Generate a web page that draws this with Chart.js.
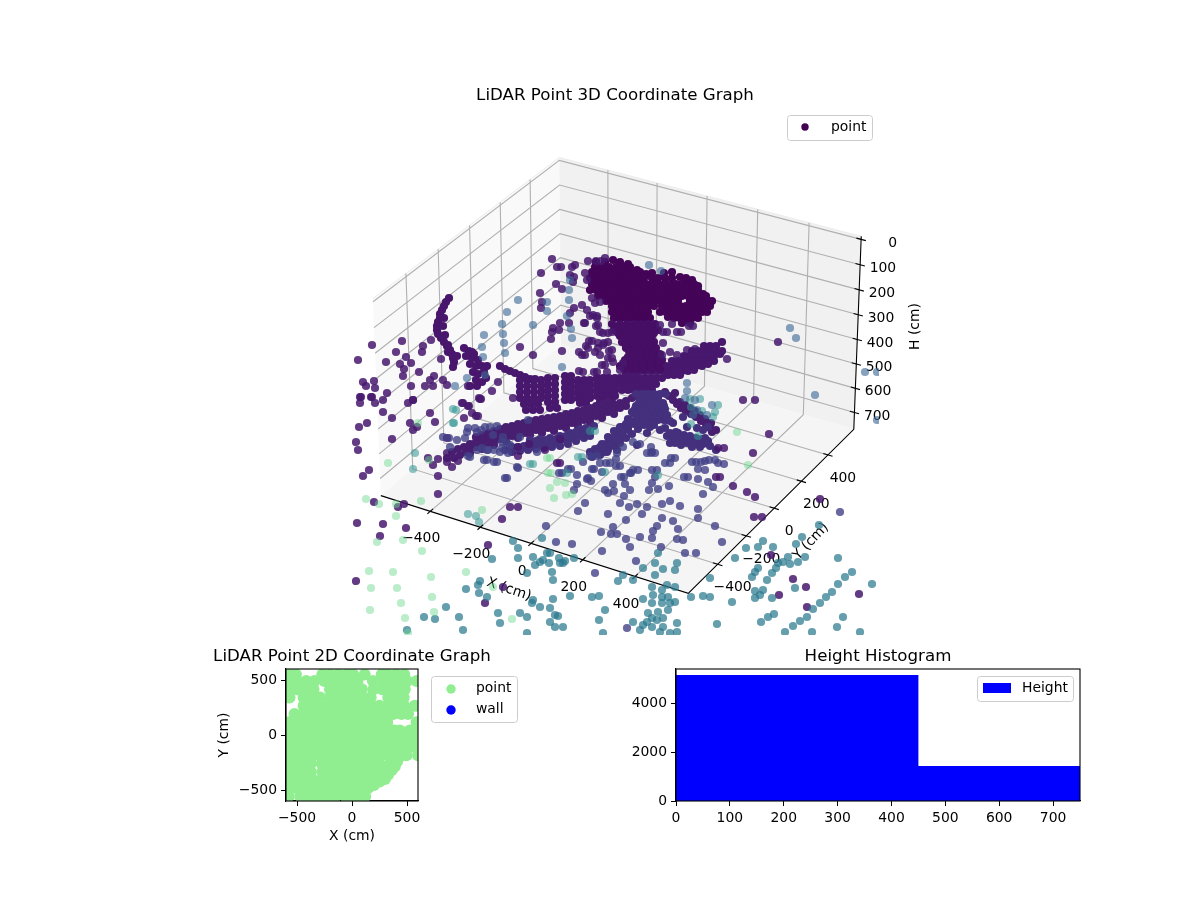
<!DOCTYPE html>
<html>
<head>
<meta charset="utf-8">
<title>LiDAR Point Graphs</title>
<script src="https://cdn.jsdelivr.net/npm/chart.js@4"></script>
<style>
    html, body { margin: 0; padding: 0; background: #fff; }
    #page { position: relative; width: 1200px; height: 900px; overflow: hidden; }
    canvas { position: absolute; }
</style>
</head>
<body>
<div id="page">
    <canvas id="main3d" width="1200" height="640" style="left:0;top:0;width:1200px;height:640px"></canvas>
    <canvas id="scan2d" width="344" height="205" style="left:180px;top:640px;width:344px;height:205px"></canvas>
    <canvas id="hist" width="480" height="185" style="left:620px;top:640px;width:480px;height:185px"></canvas>
</div>
<script>
/* ---------- 3D view: axis limits and ticks ---------- */
const xLim = [-600, 600];
const yLim = [-600, 600];
const hLim = [-12, 770];
const xTicks3d = [-400, -200, 0, 200, 400];
const yTicks3d = [-400, -200, 0, 200, 400];
const hTicks3d = [0, 100, 200, 300, 400, 500, 600, 700];

/* ---------- 3D view: points ---------- */
const backBlue = [[649,265],[661,271],[570,280],[569,290],[569,300],[547,302],[547,311],[518,300],[507,312],[502,324],[533,325],[503,334],[484,335],[504,343],[482,347],[505,353],[483,357],[572,338],[571,329],[567,316],[562,367],[455,386],[467,378],[485,375],[790,328],[796,338],[815,395],[865,372],[877,372],[877,420],[687,383],[687,391],[685,398],[695,400],[697,410],[707,415],[712,405],[693,415]];
const lightGreen = [[366,499],[379,504],[396,504],[396,516],[421,501],[482,510],[377,542],[403,540],[422,551],[369,571],[393,572],[431,577],[466,572],[371,588],[397,588],[432,597],[401,603],[370,610],[434,612],[405,618],[512,619],[493,587],[408,633],[548,473],[557,482],[565,483],[550,488],[554,498],[566,495],[572,494],[547,458],[737,432],[748,465],[418,423],[388,463],[429,460],[550,458],[551,473]];
const midTeal = [[453,409],[453,423],[415,453],[413,469],[476,516],[468,514],[479,522],[530,464],[578,457],[590,431],[456,410],[454,423],[533,464],[582,457],[567,473],[605,472],[658,475],[595,431],[690,399],[700,399],[691,407],[718,405],[702,411],[715,412],[713,417],[691,424],[698,436]];
const tealBlue = [[735,558],[746,548],[758,547],[773,547],[763,541],[788,557],[796,544],[802,537],[819,525],[783,562],[778,563],[776,568],[772,573],[767,580],[758,568],[755,572],[752,577],[790,564],[798,562],[805,557],[838,558],[852,572],[845,577],[838,584],[832,592],[826,597],[820,603],[813,609],[807,617],[800,621],[793,626],[785,632],[774,614],[768,617],[761,622],[843,617],[837,627],[812,632],[860,632],[872,584],[732,602],[755,591],[763,590],[760,595],[755,598],[772,598],[795,588],[717,624],[710,597],[703,596],[691,597],[710,578],
    [667,585],[675,587],[662,590],[652,587],[653,595],[662,597],[668,597],[662,603],[670,603],[675,602],[652,603],[643,599],[658,612],[668,610],[648,613],[657,620],[647,622],[652,618],[663,618],[643,625],[652,627],[640,630],[663,627],[660,632],[677,623],[677,632],[670,633],[633,622],[603,633],[599,620],[605,610],[592,597],[599,596],[618,581],[623,575],[633,580],[643,568],[655,575],[675,570],[658,553],[655,563],[677,563],[663,569],
    [563,563],[553,580],[570,596],[547,553],[550,553],[540,562],[543,560],[535,565],[549,563],[552,572],[559,558],[560,563],[565,561],[574,558],[542,538],[533,557],[518,558],[492,559],[513,541],[518,548],[527,573],[466,589],[446,607],[459,617],[424,617],[435,619],[500,623],[498,613],[520,613],[532,603],[527,617],[540,607],[550,608],[553,599],[555,615],[558,616],[550,622],[555,627],[563,627],[527,633],[463,630],[407,630],[533,600],[479,593],[487,597],[480,581],[478,585]];
const floorBlue = [[505,478],[517,467],[494,462],[484,460],[468,456],[559,473],[568,469],[577,484],[574,490],[587,479],[591,481],[592,469],[602,472],[606,463],[616,466],[630,473],[633,470],[621,477],[613,484],[625,484],[605,490],[608,493],[614,491],[630,490],[624,496],[585,503],[578,511],[608,514],[620,503],[629,507],[637,504],[626,520],[647,507],[642,514],[652,470],[655,477],[652,483],[649,490],[658,489],[669,486],[665,463],[671,458],[647,453],[652,452],[684,477],[692,462],[701,462],[709,460],[718,463],[698,469],[698,479],[708,482],[713,487],[703,494],[662,504],[670,501],[680,506],[698,509],[698,518],[715,526],[840,512],[662,518],[673,521],[678,529],[657,526],[653,531],[652,538],[640,537],[626,539],[613,527],[617,534],[611,534],[601,532],[546,526],[556,542],[572,544],[602,551],[630,547],[636,561],[661,547],[677,539],[683,540],[722,542],[685,553],[696,553],[595,573],[627,628],
    [467,432],[477,432],[490,427],[485,427],[493,435],[503,437],[507,443],[500,452],[487,450],[477,450],[457,440],[450,447],[443,437],
    [468,428],[475,428],[481,430],[497,426],[449,438],[465,438],[470,457],[482,448],[488,450],[494,450],[487,460],[497,462],[502,442],[502,448],[510,445],[520,437],[528,420],[508,453],[518,468],[537,452],[562,473],[571,469],[583,462],[590,456],[597,456],[594,469],[600,463],[610,463],[620,466],[617,453],[616,459],[623,447],[633,442],[640,444],[651,447],[651,453],[655,453],[657,470],[670,463],[675,458],[696,462],[705,461],[715,460],[724,464],[688,477],[705,470],[624,477],[631,473],[638,470],[507,478],[588,478],[577,475]];
const sparseDark = [[552,259],[557,267],[561,267],[572,267],[575,265],[541,273],[556,284],[562,289],[540,293],[542,302],[541,308],[570,275],[574,277],[573,282],[560,323],[553,328],[552,332],[559,330],[551,339],[569,323],[584,323],[570,313],[574,308],[582,305],[590,316],[597,316],[596,326],[600,332],[608,333],[604,343],[589,341],[586,346],[562,351],[579,352],[582,355],[595,352],[609,351],[608,358],[613,362],[602,365],[533,355],[520,347],[579,371],[594,372],[677,332],[663,332],[689,326],[778,342],[727,359],[743,400],[755,400],
    [372,345],[402,341],[396,352],[358,360],[386,362],[406,357],[400,364],[411,363],[404,369],[403,376],[419,372],[422,352],[423,346],[431,340],[441,359],[434,376],[430,380],[425,386],[433,386],[443,380],[447,385],[411,386],[363,382],[374,381],[366,386],[375,388],[387,393],[361,397],[371,397],[383,400],[413,400],[468,386],[492,391],[498,382],[485,367],[479,398],
    [360,397],[372,397],[375,403],[383,412],[360,403],[367,423],[359,427],[356,442],[358,450],[369,470],[363,476],[392,418],[392,439],[408,403],[413,400],[430,413],[435,422],[410,423],[413,430],[417,427],[462,403],[468,406],[472,413],[476,416],[480,399],[447,438],[447,453],[447,462],[452,467],[458,461],[438,476],[438,494],[433,465],[438,459],[428,458],[374,502],[398,507],[404,504],[510,507],[518,507],[502,519],[357,523],[383,524],[406,528],[380,536],[488,545],[356,581],[485,603],[503,587],[557,463],[716,477],[733,486],[747,492],[755,497],[753,453],[718,448],[769,434],[820,499],[754,517],[762,517],[771,555],[793,579],[806,587],[779,595],[807,607],[859,594],
    [518,447],[518,456],[529,444],[545,450],[560,439],[560,463],[724,448],[720,477],[463,403],[469,406],[481,399],[478,416],[464,418],[513,398],
    [588,261],[596,261],[601,261],[605,258],[585,273],[587,280],[592,298],[587,310],[600,302],[595,303],[593,315],[597,318],[585,323],[598,325],[603,333],[612,332],[608,342],[598,343],[603,345],[592,341],[588,348],[585,355],[598,348],[600,355],[612,350],[612,358],[605,365],[623,363],[620,370],[583,372],[597,372],[607,372],[667,332],[681,332],[693,326],[672,324],[660,325],[663,343],[670,352],[662,355],[677,355],[687,350],[695,349]];
const lowerBranches = [[505,450],[512,447],[518,447],[524,446],[530,445],[536,445],[542,444],[548,443],[554,442],[560,441],[566,440],[572,438],[578,436],[584,433],[590,431],[530,440],[540,439],[550,438],[560,436],[570,433],[580,429],
    [590,452],[595,449],[600,447],[606,444],[610,440],[615,436],[618,431],[622,427],[626,424],[632,422],[638,419],[644,416],[650,412],[655,408],[596,454],[604,452],[612,445],[620,437],[628,430],
    [640,400],[646,400],[652,400],[658,398],[636,406],[642,406],[648,406],[654,406],[660,404],[632,412],[638,412],[644,412],[650,412],[656,412],[662,412],[640,418],[646,418],[652,418],[658,420],[664,420],
    [660,417],[667,420],[665,428],[673,423],[678,433],[687,427],[697,428],[703,430],[683,417],[708,427],[705,438],[687,443],[700,447],[670,443],[647,433],[650,427],[637,445],[607,452],[617,450],
    [667,436],[673,438],[679,440],[685,441],[691,442],[697,443],[703,444],[708,441],[660,430],[654,425],[648,420],[675,443],[681,445],[692,447],[670,433],[676,432],[684,435],[690,436],[696,438],[702,439],[710,446],[716,450],
    [512,452],[520,451],[528,450],[536,449],[544,448],[552,447],[560,446],[568,444],[576,441],[584,438],[590,436],[592,457],[600,455],[608,450],[614,446],[620,443],[626,438],[632,434],[638,429],[644,425],[650,421],[656,417],[662,412],[602,444],[608,437],[614,431],[620,427],[628,419],[634,414],
    [536,441],[546,440],[556,439],[566,436],[576,432],[586,428],[594,426],[598,452],[604,447],[610,444],[616,440],[622,434],[628,428],[634,424],[640,424],[646,420],[652,416],[658,410],[664,406],
    [639,403],[645,403],[651,403],[657,403],[663,403],[635,409],[641,409],[647,409],[653,409],[659,409],[665,409],[637,415],[643,415],[649,415],[655,415],[661,415],[667,415],[630,421],[636,421],[642,421],[670,421],[636,394],[642,394],[648,394],[654,394],[660,394],[666,394]];
const longBranch = [[447,458],[452,452],[458,449],[464,447],[470,444],[476,442],[482,440],[488,438],[494,436],[500,434],[506,432],[512,431],[518,429],[524,428],[530,426],[536,425],[542,424],[548,423],[554,422],[560,421],[566,419],[572,418],[578,417],[584,415],[590,413],[596,411],[602,409],[608,407],[614,405],[620,403],[626,401],[632,398],[638,396],[644,393],
    [470,449],[482,445],[494,441],[506,437],[518,434],[530,431],[542,429],[554,427],[566,424],[578,422],[590,418],[602,414],[614,410],[626,406],
    [476,437],[488,433],[500,429],[512,426],[524,423],[536,420],[548,418],[560,416],[572,413],[584,410],[596,406],[608,402],
    [454,458],[460,455],[466,452],[476,447],[488,443],[500,439],[512,436],[524,433],[536,430],[548,428],[560,426],[572,423],[584,420],[596,416],[608,412],[620,408],
    [482,435],[494,431],[506,427],[518,424],[530,421],[542,419],[554,417],[566,414],[578,411],[590,408],[602,404],[470,453],[482,449],[494,445],[506,441],[518,438],[530,435],[542,433],[554,431],[566,428],[578,426],[590,422],[602,418],[614,414],
    [665,392],[669,396],[673,400],[677,404],[681,408],[686,411],[691,414],[696,417],[701,421],[706,424],[710,428],[712,432],
    [675,393],[680,402],[685,405],[690,408],[695,411],[700,415],[705,419],[711,423],[716,430]];
const wallArcs = [[449,298],[446,302],[444,306],[442,310],[440,314],[440,318],[438,322],[437,326],[437,330],[438,334],[441,338],[444,342],[447,346],[450,350],[452,354],[453,358],[454,362],[453,367],[448,345],[445,335],[443,326],[444,318],[448,352],[457,356],
    [464,348],[469,351],[474,354],[466,356],[472,358],[478,360],[470,364],[476,366],[482,366],[473,372],[478,374],[484,372],[487,366],[476,380],[482,382],[470,386],[477,386],[486,378],[472,352]];
const mainArc = [[500,366],[505,369],[510,371],[515,373],[520,375],[525,377],[530,379],[535,379],
    [520,380],[527,380],[534,380],[541,380],[520,386],[527,386],[534,386],[541,386],[520,392],[527,392],[534,392],[541,392],[520,398],[527,398],[534,398],[541,398],[524,404],[531,404],[538,404],[526,410],[533,410],[540,410],
    [548,378],[555,378],[548,384],[555,384],[548,390],[555,390],[548,396],[555,396],[548,402],[555,402],[550,408],[557,408],
    [565,376],[571,376],[565,382],[571,382],[565,388],[571,388],[565,394],[571,394],[565,400],[571,400],
    [578,380],[584,380],[590,380],[578,386],[584,386],[590,386],[578,392],[584,392],[590,392],[578,398],[584,398],[590,398],[580,403],[586,403],
    [597,378],[603,378],[609,378],[615,378],[597,384],[603,384],[609,384],[615,384],[597,390],[603,390],[609,390],[615,390],[597,396],[603,396],[609,396],[615,396],[600,402],[606,402],[612,402],
    [620,378],[626,378],[632,378],[638,378],[644,378],[650,378],[656,378],[662,378],[620,384],[626,384],[632,384],[638,384],[644,384],[650,384],[656,384],[622,390],[628,390],[634,390],[640,390],[646,390],[652,390],
    [704,346],[710,346],[716,346],[722,342],[692,351],[698,351],[704,351],[710,351],[716,351],[722,351],[684,356],[690,356],[696,356],[702,356],[708,356],[714,356],[720,354],[672,361],[678,361],[684,361],[690,361],[696,361],[702,361],[708,361],[714,361],[660,366],[666,366],[672,366],[678,366],[684,366],[690,366],[696,366],[702,366],[708,364],[640,371],[646,371],[652,371],[658,371],[664,371],[670,371],[676,371],[682,371],[688,371],[694,370],[626,374],[634,374],[668,375],[674,375],[680,375]];
const stalk = [[612,324],[620,324],[627,324],[634,324],[641,324],[648,324],[655,324],[614,330],[622,330],[630,330],[637,330],[644,330],[651,330],[658,330],[620,336],[628,336],[634,336],[640,336],[646,336],[652,336],[622,342],[630,342],[636,342],[642,342],[648,342],[654,342],[626,348],[632,348],[638,348],[644,348],[650,348],[656,348],[630,354],[636,354],[642,354],[648,354],[654,354],[660,354],[625,360],[632,360],[638,360],[644,360],[650,360],[656,360],[662,360],[620,366],[628,366],[634,366],[640,366],[648,366],[656,366],
    [616,327],[623,327],[630,327],[637,327],[644,327],[651,327],[618,333],[626,333],[633,333],[640,333],[647,333],[654,333],[624,339],[631,339],[637,339],[643,339],[649,339],[626,345],[633,345],[639,345],[645,345],[651,345],[629,351],[635,351],[641,351],[647,351],[653,351],[628,357],[634,357],[641,357],[647,357],[653,357],[659,357],[624,363],[631,363],[637,363],[643,363],[651,363],[659,363],[624,369],[631,369],[637,369],[644,369],[652,369],[660,369]];
const topCloud = [[596,262],[605,262],[613,260],[620,262],[628,264],[595,267],[602,267],[609,267],[616,267],[623,267],[630,267],[637,270],[592,272],[598,272],[604,272],[610,272],[616,272],[622,272],[628,272],[634,272],[640,272],[646,274],[652,273],[664,273],[672,272],
    [590,278],[596,278],[602,278],[608,278],[614,278],[620,278],[626,278],[632,278],[638,278],[644,278],[652,278],[658,278],[665,278],[672,278],[680,277],[686,278],[692,280],
    [592,284],[598,284],[604,284],[610,284],[616,284],[622,284],[628,284],[634,284],[640,284],[646,284],[652,284],[658,284],[664,284],[670,284],[676,284],[682,284],[688,284],[694,284],[698,286],
    [590,290],[596,290],[602,290],[608,290],[614,290],[620,290],[626,290],[632,290],[638,290],[644,290],[650,290],[656,290],[662,290],[668,290],[674,290],[680,290],[686,290],[692,290],[698,290],[703,294],
    [598,296],[604,296],[610,296],[616,296],[622,296],[628,296],[634,296],[640,296],[646,296],[652,296],[658,296],[664,296],[670,296],[676,296],[682,296],[688,296],[694,296],[700,296],[706,296],
    [606,301],[612,301],[618,301],[624,301],[630,301],[636,301],[642,301],[648,301],[654,301],[660,301],[666,301],[672,301],[678,301],[690,301],[696,301],[702,301],[708,301],[712,301],
    [612,306],[618,306],[624,306],[630,306],[636,306],[642,306],[648,306],[654,306],[662,306],[668,306],[674,306],[680,306],[686,306],[692,306],[698,306],[704,306],[710,306],
    [612,312],[618,312],[624,312],[630,312],[636,312],[642,312],[648,312],[660,312],[666,312],[672,312],[678,312],[684,312],[690,312],[696,312],[702,312],[707,312],
    [614,318],[620,318],[626,318],[632,318],[638,318],[644,318],[650,318],[668,317],[674,318],[680,318],[686,318],[692,318],[698,318],[682,323],[690,323]];

/* ---------- 2D scan: rows of points, X by row ---------- */
const scanRowY = [550, 490, 415, 340, 265, 190, 115, 40, -35, -110, -185, -260, -335, -410, -485, -560];
const scanRowX = [
    [-570, -510, -270, -200, -125, -50, 10, 115, 270, 325, 400, 475],
    [-575, -500, -416, -340, -250, -175, -100, -25, 50, 190, 275, 350, 425, 500, 587],
    [-575, -500, -425, -350, -200, -125, -50, 25, 90, 195, 275, 350, 425, 480],
    [-568, -440, -370, -290, -200, -125, -50, 25, 85, 170, 330, 400, 470],
    [-440, -360, -280, -200, -125, -50, 25, 100, 175, 250, 325, 400, 475, 571],
    [-523, -450, -375, -300, -225, -150, -75, 0, 75, 150, 225, 300, 375, 450, 510],
    [-575, -500, -425, -350, -275, -200, -125, -50, 25, 100, 175, 250, 320, 587],
    [-560, -490, -425, -350, -275, -200, -125, -50, 25, 100, 175, 250, 325, 385, 435, 526, 556],
    [-575, -500, -425, -350, -275, -200, -125, -50, 25, 100, 175, 250, 325, 400, 470, 526, 580],
    [-575, -500, -425, -350, -275, -200, -125, -50, 25, 100, 175, 250, 325, 400, 470, 526, 580],
    [-575, -500, -425, -350, -275, -200, -125, -50, 25, 100, 175, 250, 325, 400, 495, 600],
    [-575, -500, -440, -375, -275, -200, -125, -50, 25, 100, 175, 250, 350],
    [-575, -500, -435, -375, -270, -200, -125, -50, 25, 100, 175, 240, 290],
    [-575, -500, -425, -350, -275, -200, -125, -50, 25, 100, 185],
    [-575, -500, -425, -350, -275, -200, -125, -50, 25, 110],
    [-575, -470, -400, -330, -260, -190, -150, -60, 10, 80, 120]
];
const scanEdgeX = [435, 389, 328, 252, 146, 70, 300, 200, 360, 410];
const scanEdgeY = [-195, -286, -362, -422, -483, -529, -400, -455, -320, -240];

/* ---------- height histogram ---------- */
const binEdges = [0, 450, 750];
const binCounts = [5143, 1430];
const histXTicks = [0, 100, 200, 300, 400, 500, 600, 700];
const histYTicks = [0, 2000, 4000];
const scanTicks = [-500, 0, 500];

const FONT = '"DejaVu Sans"';
Chart.defaults.font.family = FONT;
Chart.defaults.font.size = 13.9;
Chart.defaults.color = '#000';
Chart.defaults.animation = false;
Chart.defaults.devicePixelRatio = 1;
Chart.defaults.plugins.legend.display = false;
Chart.defaults.plugins.tooltip.enabled = false;

// same perspective as the source plot: elev 30, azim -60, distance 10
function project(X, Y, H) {
    const A = (X - xLim[0]) / (xLim[1] - xLim[0]) - 0.5;
    const B = (Y - yLim[0]) / (yLim[1] - yLim[0]) - 0.5;
    const C = 0.32 - 0.64 * (H - hLim[0]) / (hLim[1] - hLim[0]);
    const xv = 0.866 * A + 0.5 * B;
    const yv = -0.25 * A + 0.433 * B + 0.866 * C;
    const d = 10 - (0.433 * A - 0.75 * B + 0.5 * C);
    return { x: 621 + 3517 * xv / d, y: 366 - 3517 * yv / d };
}

const minus = v => String(v).replace('-', '\u2212');

function drawText(ctx, text, x, y, opts = {}) {
    ctx.save();
    ctx.translate(x, y + 1.5);
    if (opts.rotate) ctx.rotate(opts.rotate);
    ctx.font = (opts.size || 13.9) + 'px ' + FONT;
    ctx.fillStyle = '#000';
    ctx.textAlign = opts.align || 'center';
    ctx.textBaseline = 'middle';
    ctx.fillText(text, 0, 0);
    ctx.restore();
}

function legendBox(ctx, x, y, w, h) {
    ctx.save();
    ctx.beginPath();
    ctx.roundRect(x + 0.5, y + 0.5, w, h, 3);
    ctx.fillStyle = 'rgba(255,255,255,0.8)';
    ctx.fill();
    ctx.strokeStyle = '#ccc';
    ctx.lineWidth = 1;
    ctx.stroke();
    ctx.restore();
}

function dot(ctx, x, y, r, color) {
    ctx.beginPath();
    ctx.arc(x, y, r, 0, Math.PI * 2);
    ctx.fillStyle = color;
    ctx.fill();
}

const boxPlugin = {
    id: 'box3d',
    beforeDatasetsDraw(chart) {
        const ctx = chart.ctx;
        const sx = chart.scales.x, sy = chart.scales.y;
        const pt = (X, Y, H) => {
            const p = project(X, Y, H);
            return [sx.getPixelForValue(p.x), sy.getPixelForValue(p.y)];
        };
        const [x0, x1] = xLim, [y0, y1] = yLim, [h0, h1] = hLim;
        const poly = (pts, fill) => {
            ctx.beginPath();
            pts.forEach((p, i) => i ? ctx.lineTo(p[0], p[1]) : ctx.moveTo(p[0], p[1]));
            if (fill) { ctx.closePath(); ctx.fillStyle = fill; ctx.fill(); } else ctx.stroke();
        };
        // panes
        poly([pt(x0, y0, h0), pt(x0, y1, h0), pt(x0, y1, h1), pt(x0, y0, h1)], '#f9f9f9');
        poly([pt(x0, y1, h0), pt(x1, y1, h0), pt(x1, y1, h1), pt(x0, y1, h1)], '#f1f1f1');
        poly([pt(x0, y0, h1), pt(x1, y0, h1), pt(x1, y1, h1), pt(x0, y1, h1)], '#f5f5f5');
        ctx.strokeStyle = '#ececec';
        ctx.lineWidth = 1;
        poly([pt(x0, y0, h0), pt(x0, y1, h0), pt(x1, y1, h0)]);

        // grid
        ctx.strokeStyle = '#b0b0b0';
        ctx.lineWidth = 1.1;
        xTicks3d.forEach(v => poly([pt(v, y0, h1), pt(v, y1, h1), pt(v, y1, h0)]));
        yTicks3d.forEach(v => poly([pt(x1, v, h1), pt(x0, v, h1), pt(x0, v, h0)]));
        hTicks3d.forEach(v => poly([pt(x0, y0, v), pt(x0, y1, v), pt(x1, y1, v)]));

        // axis lines and ticks
        ctx.strokeStyle = '#000';
        poly([pt(x0, y0, h1), pt(x1, y0, h1), pt(x1, y1, h1), pt(x1, y1, h0)]);
        xTicks3d.forEach(v => {
            poly([pt(v, y0 - 18, h1), pt(v, y0 + 18, h1)]);
            const t = pt(v, y0, h1);
            drawText(ctx, minus(v), t[0] - 9, t[1] + 26);
        });
        yTicks3d.forEach(v => {
            poly([pt(x1 - 18, v, h1), pt(x1 + 18, v, h1)]);
            const t = pt(x1, v, h1);
            drawText(ctx, minus(v), t[0] + 15, t[1] + 22);
        });
        hTicks3d.forEach(v => {
            poly([pt(x1 - 18, y1, v), pt(x1 + 18, y1, v)]);
            const t = pt(x1, y1, v);
            drawText(ctx, minus(v), t[0] + 36, t[1] + 2, { align: 'right' });
        });
        drawText(ctx, 'X (cm)', 509, 588, { rotate: 0.33 });
        drawText(ctx, 'Y (cm)', 811, 540, { rotate: -0.82 });
        drawText(ctx, 'H (cm)', 915, 325, { rotate: -Math.PI / 2 });
    },
    afterDraw(chart) {
        const ctx = chart.ctx;
        drawText(ctx, 'LiDAR Point 3D Coordinate Graph', 615, 94, { size: 16.67 });
        legendBox(ctx, 787, 115, 85, 25);
        dot(ctx, 805, 127, 3.7, '#440154');
        drawText(ctx, 'point', 831, 126, { align: 'left' });
    }
};

const bands = [
    { data: backBlue, color: 'rgba(62,105,150,0.62)' },
    { data: lightGreen, color: 'rgba(105,215,140,0.45)' },
    { data: midTeal, color: 'rgba(50,150,145,0.55)' },
    { data: tealBlue, color: 'rgba(42,120,142,0.72)' },
    { data: floorBlue, color: 'rgba(66,65,135,0.8)' },
    { data: sparseDark, color: 'rgba(70,25,110,0.85)' },
    { data: wallArcs, color: 'rgb(72,22,108)' },
    { data: stalk, color: 'rgb(70,14,100)' },
    { data: lowerBranches, color: 'rgb(68,48,125)' },
    { data: longBranch, color: 'rgb(72,30,112)' },
    { data: mainArc, color: 'rgb(71,24,110)' },
    { data: topCloud, color: 'rgb(68,4,88)' }
];

new Chart(document.getElementById('main3d'), {
    type: 'scatter',
    data: {
        datasets: bands.map(b => ({
            data: b.data.map(p => ({ x: p[0], y: p[1] })),
            backgroundColor: b.color,
            borderWidth: 0,
            pointRadius: 4.1
        }))
    },
    options: {
        responsive: false,
        layout: { padding: { left: 352, right: 321, top: 108, bottom: 5 } },
        scales: {
            x: { type: 'linear', display: false, min: 352, max: 879 },
            y: { type: 'linear', display: false, reverse: true, min: 108, max: 635 }
        }
    },
    plugins: [boxPlugin]
});

// frame, title and legend for the two small axes
function framePlugin(title, legend) {
    return {
        id: 'frame',
        afterDraw(chart) {
            const ctx = chart.ctx, a = chart.chartArea;
            ctx.save();
            ctx.strokeStyle = '#000';
            ctx.lineWidth = 1.1;
            ctx.strokeRect(a.left, a.top, a.right - a.left, a.bottom - a.top);
            ctx.restore();
            drawText(ctx, title, (a.left + a.right) / 2, a.top - 14, { size: 16.67 });
            legend(ctx);
        }
    };
}

function axisStyle(ticks, extra) {
    return Object.assign({
        type: 'linear',
        afterBuildTicks: scale => { scale.ticks = ticks.map(v => ({ value: v })); },
        grid: { drawOnChartArea: false, drawTicks: true, tickLength: 5, tickColor: '#000' },
        border: { color: '#000', width: 1.1 },
        ticks: { padding: 4, autoSkip: false, maxRotation: 0, color: '#000', callback: minus }
    }, extra);
}

const scanPoints = [];
scanRowY.forEach((y, i) => scanRowX[i].forEach(x => scanPoints.push({ x, y })));
scanEdgeX.forEach((x, i) => scanPoints.push({ x, y: scanEdgeY[i] }));

new Chart(document.getElementById('scan2d'), {
    type: 'scatter',
    data: { datasets: [
        { label: 'point', data: scanPoints, backgroundColor: '#90ee90', borderWidth: 0, pointRadius: 6 },
        { label: 'wall', data: [], backgroundColor: '#0000ff', borderWidth: 0 }
    ] },
    options: {
        responsive: false,
        layout: { padding: { left: 36, right: 106, top: 29, bottom: 0 } },
        scales: {
            x: axisStyle(scanTicks, {
                min: -600, max: 600,
                title: { display: true, text: 'X (cm)', color: '#000', padding: { top: 2, bottom: 0 } },
                afterFit: s => { s.height = 44; }
            }),
            y: axisStyle(scanTicks, {
                min: -600, max: 600,
                title: { display: true, text: 'Y (cm)', color: '#000', padding: { top: 0, bottom: 2 } },
                afterFit: s => { s.width = 70; }
            })
        }
    },
    plugins: [framePlugin('LiDAR Point 2D Coordinate Graph', ctx => {
        legendBox(ctx, 251, 36, 86, 46);
        dot(ctx, 271, 49, 4.7, '#90ee90');
        dot(ctx, 271, 70, 4.7, '#0000ff');
        drawText(ctx, 'point', 296, 47, { align: 'left' });
        drawText(ctx, 'wall', 296, 68, { align: 'left' });
    })]
});

const histSteps = [];
binCounts.forEach((c, i) => {
    histSteps.push({ x: binEdges[i], y: c });
    histSteps.push({ x: binEdges[i + 1], y: c });
});

new Chart(document.getElementById('hist'), {
    type: 'line',
    data: { datasets: [{
        label: 'Height',
        data: histSteps,
        backgroundColor: '#0000ff',
        borderWidth: 0,
        pointRadius: 0,
        tension: 0,
        fill: 'origin'
    }] },
    options: {
        responsive: false,
        layout: { padding: { left: 0, right: 20, top: 29, bottom: 0 } },
        scales: {
            x: axisStyle(histXTicks, { min: 0, max: 750, afterFit: s => { s.height = 24; } }),
            y: axisStyle(histYTicks, { min: 0, max: 5390, afterFit: s => { s.width = 56; } })
        }
    },
    plugins: [framePlugin('Height Histogram', ctx => {
        legendBox(ctx, 357, 36, 96, 25);
        ctx.fillStyle = '#0000ff';
        ctx.fillRect(363, 43, 28, 10);
        drawText(ctx, 'Height', 402, 47, { align: 'left' });
    })]
});
</script>
</body>
</html>
